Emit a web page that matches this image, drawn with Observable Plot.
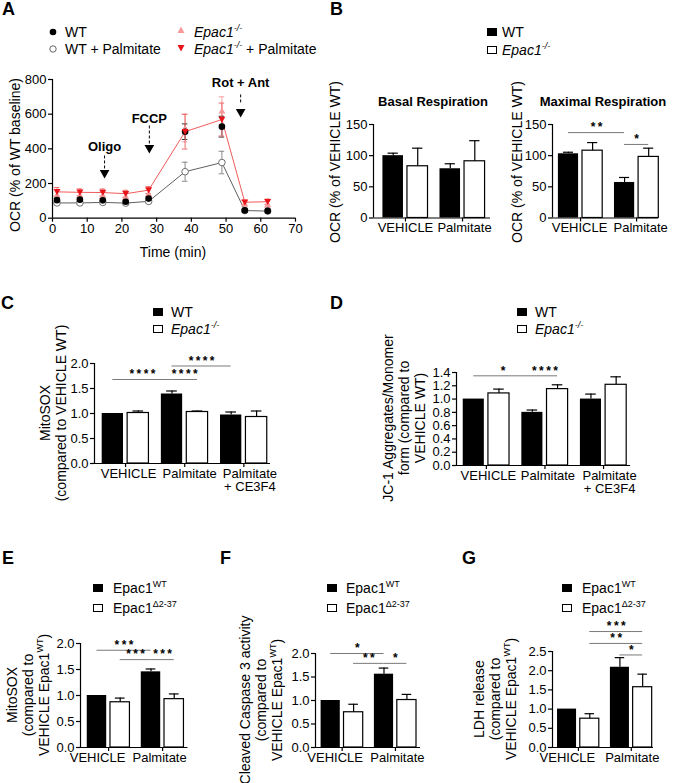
<!DOCTYPE html>
<html><head><meta charset="utf-8">
<script src="https://cdn.jsdelivr.net/npm/d3@7"></script>
<script src="https://cdn.jsdelivr.net/npm/@observablehq/plot@0.6"></script>
<style>
html,body{margin:0;padding:0;background:#fff;}
#root{position:relative;width:673px;height:783px;overflow:hidden;font-family:"Liberation Sans",Arial,Helvetica,sans-serif;color:#000;background:#fff;}
.t{position:absolute;white-space:nowrap;font-size:14px;line-height:16px;}
.letter{position:absolute;font-size:18px;font-weight:bold;line-height:18px;}
.rot{position:absolute;white-space:nowrap;font-size:14px;line-height:16px;text-align:center;transform:translate(-50%,-50%) rotate(-90deg);}
.ctr{position:absolute;white-space:nowrap;font-size:14px;line-height:16px;transform:translate(-50%,-50%);}
.sq{position:absolute;width:10px;height:8px;box-sizing:border-box;border:1px solid #000;}
sup{font-size:9px;line-height:0;vertical-align:6px;}
</style></head>
<body><div id="root"></div>
<script>
// ================= DATA =================
// Panel A – Seahorse OCR trace
const timeMin     = [1.3, 7.9, 14.5, 21.1, 27.7, 38.2, 48.8, 55.4, 62.0];
const ocrWT       = [104, 107, 103, 95, 113, 499, 528, 45, 42];
const ocrWTSem    = [12, 10, 10, 10, 10, 45, 60, 5, 5];
const ocrWTPal    = [88, 88, 91, 87, 97, 268, 321, 44, 41];
const ocrWTPalSem = [8, 8, 8, 8, 8, 55, 65, 5, 5];
const ocrKO       = [135, 133, 132, 126, 142, 520, 620, 84, 80];
const ocrKOSem    = [30, 25, 25, 25, 28, 80, 80, 15, 18];
const ocrKOPal    = [152, 149, 148, 141, 162, 499, 569, 92, 95];
const ocrKOPalSem = [25, 20, 20, 20, 20, 100, 95, 12, 15];
const injections  = ["Oligo", "FCCP", "Rot + Ant"];
const injTime     = [15.0, 27.9, 54.2];
const ticksA_x    = [0, 10, 20, 30, 40, 50, 60, 70];
const ticksA_y    = [0, 200, 400, 600, 800];

// Panel B
const groups2      = ["VEHICLE", "Palmitate"];
const basalWT      = [100, 79];
const basalWTSem   = [4, 8];
const basalKO      = [83, 91];
const basalKOSem   = [29, 33];
const maxWT        = [103, 57];
const maxWTSem     = [2.5, 8];
const maxKO        = [108, 98];
const maxKOSem     = [13, 14];
const ticksB       = [0, 50, 100, 150];

// Panel C – MitoSOX
const groups3      = ["VEHICLE", "Palmitate", "Palmitate\n+ CE3F4"];
const mitoWT       = [1.0, 1.39, 0.97];
const mitoWTSem    = [0, 0.06, 0.06];
const mitoKO       = [1.01, 1.03, 0.93];
const mitoKOSem    = [0.04, 0.02, 0.12];
const ticks2       = [0, 0.5, 1.0, 1.5, 2.0];

// Panel D – JC-1
const jcWT         = [1.0, 0.80, 1.0];
const jcWTSem      = [0, 0.035, 0.075];
const jcKO         = [1.085, 1.15, 1.215];
const jcKOSem      = [0.065, 0.065, 0.12];
const ticksD       = [0, 0.2, 0.4, 0.6, 0.8, 1.0, 1.2, 1.4];

// Panel E – MitoSOX (Epac1 WT vs Δ2-37)
const mitoEWT      = [1.0, 1.455];
const mitoEWTSem   = [0, 0.055];
const mitoED       = [0.87, 0.93];
const mitoEDSem    = [0.08, 0.10];

// Panel F – Cleaved caspase 3
const casWT        = [1.0, 1.56];
const casWTSem     = [0, 0.13];
const casD         = [0.75, 1.01];
const casDSem      = [0.17, 0.12];

// Panel G – LDH release
const ldhWT        = [1.0, 2.09];
const ldhWTSem     = [0, 0.25];
const ldhD         = [0.75, 1.57];
const ldhDSem      = [0.13, 0.34];
const ticksG       = [0, 0.5, 1.0, 1.5, 2.0, 2.5];

// significance brackets: a/b = [group, genotype(0 WT,1 KO)]
const sigMax = [{a:[0,0], b:[1,0], y:137, t:"**"}, {a:[1,0], b:[1,1], y:118, t:"*"}];
const sigC = [{a:[0,0], b:[1,0], y:1.68, t:"****"}, {a:[1,0], b:[1,1], y:1.68, t:"****"}, {a:[1,0], b:[2,0], y:1.95, t:"****"}];
const sigD = [{a:[0,0], b:[1,0], y:1.35, t:"*"}, {a:[1,0], b:[1,1], y:1.35, t:"****"}];
const sigE = [{a:[0,0], b:[1,0], y:1.87, t:"***"}, {a:[0,1], b:[1,0], y:1.69, t:"***"}, {a:[1,0], b:[1,1], y:1.69, t:"***"}];
const sigF = [{a:[0,0], b:[1,0], y:2.0, t:"*"}, {a:[0,1], b:[1,0], y:1.79, t:"**"}, {a:[1,0], b:[1,1], y:1.79, t:"*"}];
const sigG = [{a:[0,1], b:[1,1], y:3.02, t:"***"}, {a:[0,1], b:[1,1], y:2.71, t:"**"}, {a:[1,0], b:[1,1], y:2.41, t:"*"}];

// ================= LAYOUT HELPERS =================
const root = document.getElementById("root");
const FONT = '"Liberation Sans", Arial, Helvetica, sans-serif';
const TICK_FS = 13;

function html(cls, x, y, content, extra) {
  const d = document.createElement("div");
  d.className = cls;
  d.style.left = x + "px"; d.style.top = y + "px";
  if (extra) Object.assign(d.style, extra);
  d.innerHTML = content;
  root.appendChild(d);
  return d;
}
function square(x, yc, fill) { html("sq", x, yc - 4, "", {background: fill}); }
function legendBW(sqX, txtX, y1, y2, lab1, lab2) {
  square(sqX, y1, "#000"); html("t", txtX, y1 - 8, lab1);
  square(sqX, y2, "#fff"); html("t", txtX, y2 - 8, lab2);
}

function chart({frame, xdom, ydom, marks, ml = 50, mr = 14, mt = 45, mb = 45}) {
  const [x0, x1, y0, y1] = frame;
  const svg = Plot.plot({
    width: x1 - x0 + ml + mr, height: y1 - y0 + mt + mb,
    marginLeft: ml, marginRight: mr, marginTop: mt, marginBottom: mb,
    x: {type: "linear", domain: xdom, label: null},
    y: {type: "linear", domain: ydom, label: null},
    style: {fontFamily: FONT, fontSize: TICK_FS + "px", color: "black", background: "transparent", overflow: "visible", maxWidth: "none"},
    marks
  });
  svg.style.position = "absolute";
  svg.style.left = (x0 - ml) + "px";
  svg.style.top = (y0 - mt) + "px";
  root.appendChild(svg);
  return svg;
}

const OFF = 0.215, HW = 0.18, CAP = 0.09;
const P = (g, k) => g + (k ? OFF : -OFF);
const stars = s => s.split("").join("\u2009");

function barPanel({frame, xdom, ydom, yticks, yfmt, groups, wt, wtSem, ko, koSem, sig, labelDx}) {
  const rows = groups.flatMap((name, g) => [
    {g, k: 0, v: wt[g], e: wtSem[g]},
    {g, k: 1, v: ko[g], e: koSem[g]}
  ]);
  const errRows = rows.filter(r => r.e > 0);
  const marks = [
    Plot.rectY(rows.filter(r => r.k === 0), {x1: r => P(r.g, 0) - HW, x2: r => P(r.g, 0) + HW, y1: () => 0, y2: "v", fill: "black"}),
    Plot.rectY(rows.filter(r => r.k === 1), {x1: r => P(r.g, 1) - HW, x2: r => P(r.g, 1) + HW, y1: () => 0, y2: "v", fill: "white", stroke: "black", strokeWidth: 1.2}),
    Plot.ruleX(errRows, {x: r => P(r.g, r.k), y1: "v", y2: r => r.v + r.e, stroke: "black", strokeWidth: 1.2}),
    Plot.ruleY(errRows, {y: r => r.v + r.e, x1: r => P(r.g, r.k) - CAP, x2: r => P(r.g, r.k) + CAP, stroke: "black", strokeWidth: 1.2}),
    Plot.ruleY(sig, {y: "y", x1: s => P(...s.a), x2: s => P(...s.b), stroke: "#7a7a7a", strokeWidth: 1}),
    Plot.text(sig, {x: s => (P(...s.a) + P(...s.b)) / 2, y: "y", text: s => stars(s.t), dy: -5, fontSize: 12, fontWeight: "bold"}),
    Plot.ruleX([xdom[0]], {stroke: "black", strokeWidth: 1.2}),
    Plot.ruleY([0], {stroke: "black", strokeWidth: 1.2}),
    Plot.axisY({ticks: yticks, tickFormat: yfmt, tickSize: 4, tickPadding: 2, label: null, strokeWidth: 1.2, fontSize: TICK_FS}),
    Plot.axisX({ticks: groups.map((d, i) => i), tickFormat: () => "", tickSize: 4, label: null, strokeWidth: 1.2}),
    ...groups.map((name, g) => Plot.axisX({ticks: [g], tickFormat: () => name, tickSize: 0, tickPadding: 5, label: null, fontSize: TICK_FS, dx: labelDx ? labelDx[g] : 0}))
  ];
  return chart({frame, xdom, ydom, marks});
}

// custom triangle symbols
const triDown = {draw(ctx, size) { const r = Math.sqrt(size / Math.PI); ctx.moveTo(-r * 1.05, -r * 0.85); ctx.lineTo(r * 1.05, -r * 0.85); ctx.lineTo(0, r * 1.0); ctx.closePath(); }};
const triUp   = {draw(ctx, size) { const r = Math.sqrt(size / Math.PI); ctx.moveTo(-r * 1.05, r * 0.85); ctx.lineTo(r * 1.05, r * 0.85); ctx.lineTo(0, -r * 1.0); ctx.closePath(); }};

// ================= PANEL A =================
{
  const series = [
    {v: ocrKO,    e: ocrKOSem,    line: null,      err: "#f5a3a3", symbol: triUp,   fill: "#f49a9a", stroke: "none"},
    {v: ocrWTPal, e: ocrWTPalSem, line: "#5e5e5e", err: "#8a8a8a", symbol: "circle", fill: "white",  stroke: "#6e6e6e"},
    {v: ocrWT,    e: ocrWTSem,    line: null,      err: "#333",    symbol: "circle", fill: "black",  stroke: "none"},
    {v: ocrKOPal, e: ocrKOPalSem, line: "#f25a5a", err: "#f06a6a", symbol: triDown, fill: "#e8141a", stroke: "none"}
  ];
  const marks = [];
  for (const s of series) {
    const rows = timeMin.map((t, i) => ({t, v: s.v[i], e: s.e[i]}));
    if (s.line) marks.push(Plot.line(rows, {x: "t", y: "v", stroke: s.line, strokeWidth: 1}));
    marks.push(
      Plot.ruleX(rows, {x: "t", y1: r => r.v - r.e, y2: r => r.v + r.e, stroke: s.err, strokeWidth: 1}),
      Plot.ruleY(rows, {y: r => r.v + r.e, x1: r => r.t - 0.8, x2: r => r.t + 0.8, stroke: s.err, strokeWidth: 1}),
      Plot.ruleY(rows, {y: r => r.v - r.e, x1: r => r.t - 0.8, x2: r => r.t + 0.8, stroke: s.err, strokeWidth: 1})
    );
  }
  for (const s of series) {
    const rows = timeMin.map((t, i) => ({t, v: s.v[i]}));
    marks.push(Plot.dot(rows, {x: "t", y: "v", r: 3.3, symbol: s.symbol, fill: s.fill, stroke: s.stroke, strokeWidth: 1}));
  }
  // injection annotations (label, dashed line, arrow head) in data space
  const inj = injections.map((label, i) => ({label, t: injTime[i], ly: [412, 575, 780][i], top: [359, 532, 716][i], bot: [284, 428, 665][i], head: [255, 400, 607][i]}));
  marks.push(
    Plot.text(inj, {x: "t", y: "ly", text: "label", fontWeight: "bold", fontSize: 13}),
    Plot.ruleX(inj, {x: "t", y1: "bot", y2: "top", stroke: "black", strokeDasharray: "3,2", strokeWidth: 1}),
    Plot.dot(inj, {x: "t", y: "head", r: 4.6, symbol: triDown, fill: "black", stroke: "none"}),
    Plot.ruleX([0], {stroke: "black", strokeWidth: 1.2}),
    Plot.ruleY([0], {stroke: "black", strokeWidth: 1.2}),
    Plot.axisY({ticks: ticksA_y, tickSize: 4, tickPadding: 2, label: null, strokeWidth: 1.2, fontSize: TICK_FS}),
    Plot.axisX({ticks: ticksA_x, tickSize: 4, tickPadding: 2, label: null, strokeWidth: 1.2, fontSize: TICK_FS})
  );
  chart({frame: [52, 295, 78.6, 217.3], xdom: [0, 70], ydom: [0, 800], marks, mt: 20, mb: 30});

  html("letter", 2, 0, "A");
  const sym = (svgInner) => `<svg width="10" height="10" style="position:absolute;left:-4px;top:3px;overflow:visible">${svgInner}</svg>`;
  html("t", 52, 24, sym('<circle cx="5" cy="5" r="3.3" fill="black"/>'));
  html("t", 65, 24, "WT");
  html("t", 52, 41, sym('<circle cx="5" cy="5" r="3.2" fill="white" stroke="#666"/>'));
  html("t", 65, 41, "WT + Palmitate");
  html("t", 180, 22, sym('<path d="M1.5,8 L8.5,8 L5,1.5 Z" fill="#f49a9a"/>'));
  html("t", 194, 24, "<i>Epac1<sup>-/-</sup></i>");
  html("t", 180, 40, sym('<path d="M1.5,2 L8.5,2 L5,8.5 Z" fill="#e8141a"/>'));
  html("t", 194, 41, "<i>Epac1<sup>-/-</sup></i> + Palmitate");
  html("rot", 15, 155, "OCR (% of WT baseline)");
  html("ctr", 173, 252, "Time (min)");
}

// ================= PANEL B =================
{
  html("letter", 330, 0, "B");
  legendBW(487, 502, 32, 50, "WT", "<i>Epac1<sup>-/-</sup></i>");
  html("ctr", 433, 102, "Basal Respiration", {fontWeight: "bold", fontSize: "13px"});
  html("ctr", 603, 102, "Maximal Respiration", {fontWeight: "bold", fontSize: "13px"});
  html("rot", 335, 162, "OCR (% of VEHICLE WT)");
  html("rot", 517, 162, "OCR (% of VEHICLE WT)");
  barPanel({frame: [373, 490, 123.5, 217], xdom: [-0.56, 1.49], ydom: [0, 150], yticks: ticksB, yfmt: d3.format("d"),
    groups: groups2, wt: basalWT, wtSem: basalWTSem, ko: basalKO, koSem: basalKOSem, sig: [], labelDx: [0, 2]});
  barPanel({frame: [552, 658, 123.5, 217], xdom: [-0.5, 1.39], ydom: [0, 150], yticks: ticksB, yfmt: d3.format("d"),
    groups: groups2, wt: maxWT, wtSem: maxWTSem, ko: maxKO, koSem: maxKOSem, sig: sigMax, labelDx: [-1, 4]});
}

// ================= PANEL C =================
{
  html("letter", 1, 294, "C");
  legendBW(153, 171, 312, 329, "WT", "<i>Epac1<sup>-/-</sup></i>");
  html("rot", 53, 413, "MitoSOX<br>(compared to VEHICLE WT)");
  barPanel({frame: [94, 270, 363, 463], xdom: [-0.525, 2.45], ydom: [0, 2], yticks: ticks2, yfmt: d3.format(".1f"),
    groups: groups3, wt: mitoWT, wtSem: mitoWTSem, ko: mitoKO, koSem: mitoKOSem, sig: sigC, labelDx: [3, 5, 6]});
}

// ================= PANEL D =================
{
  html("letter", 330, 294, "D");
  legendBW(517, 535, 312, 329, "WT", "<i>Epac1<sup>-/-</sup></i>");
  html("rot", 404, 418, "JC-1 Aggregates/Monomer<br>form (compared to<br>VEHICLE WT)");
  barPanel({frame: [456, 630, 372, 465], xdom: [-0.51, 2.46], ydom: [0, 1.4], yticks: ticksD, yfmt: d3.format(".1f"),
    groups: groups3, wt: jcWT, wtSem: jcWTSem, ko: jcKO, koSem: jcKOSem, sig: sigD, labelDx: [2, 3, 6]});
}

// ================= PANELS E, F, G =================
const labWT = "Epac1<sup>WT</sup>", labD = "Epac1<sup>\u03942-37</sup>";
{
  html("letter", 2, 549, "E");
  legendBW(93, 113, 588, 608, labWT, labD);
  html("rot", 28, 695, "MitoSOX<br>(compared to<br>VEHICLE Epac1<sup>WT</sup>)");
  barPanel({frame: [79.5, 187, 643, 747], xdom: [-0.52, 1.47], ydom: [0, 2], yticks: ticks2, yfmt: d3.format(".1f"),
    groups: groups2, wt: mitoEWT, wtSem: mitoEWTSem, ko: mitoED, koSem: mitoEDSem, sig: sigE, labelDx: [-11, -3]});
}
{
  html("letter", 220, 549, "F");
  legendBW(327, 346, 588, 608, labWT, labD);
  html("rot", 261, 700, "Cleaved Caspase 3 activity<br>(compared to<br>VEHICLE Epac1<sup>WT</sup>)");
  barPanel({frame: [315, 420, 653, 747], xdom: [-0.5, 1.47], ydom: [0, 2], yticks: ticks2, yfmt: d3.format(".1f"),
    groups: groups2, wt: casWT, wtSem: casWTSem, ko: casD, koSem: casDSem, sig: sigF, labelDx: [-7, 2]});
}
{
  html("letter", 462, 549, "G");
  legendBW(562, 582, 588, 608, labWT, labD);
  html("rot", 495, 699, "LDH release<br>(compared to<br>VEHICLE Epac1<sup>WT</sup>)");
  barPanel({frame: [552, 653, 651, 747], xdom: [-0.49, 1.42], ydom: [0, 2.5], yticks: ticksG, yfmt: d3.format(".1f"),
    groups: groups2, wt: ldhWT, wtSem: ldhWTSem, ko: ldhD, koSem: ldhDSem, sig: sigG, labelDx: [-11, 1]});
}
</script>
</body></html>
